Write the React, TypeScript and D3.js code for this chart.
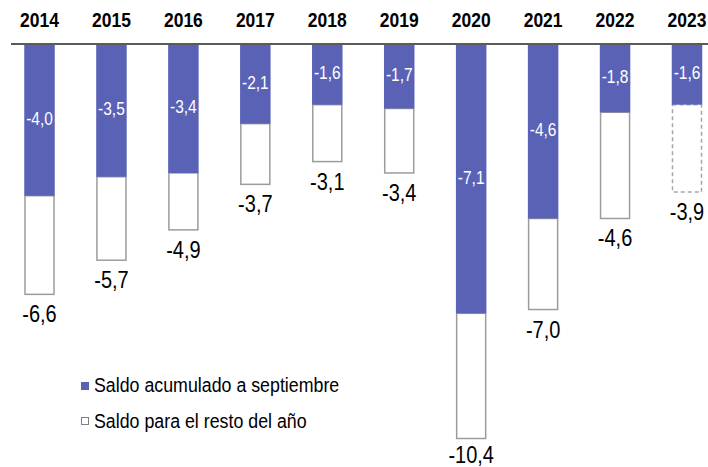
import React from "react";
import * as d3 from "d3";

const years = ["2014", "2015", "2016", "2017", "2018", "2019", "2020", "2021", "2022", "2023"];
const septValues = [-4.0, -3.5, -3.4, -2.1, -1.6, -1.7, -7.1, -4.6, -1.8, -1.6];
const totalValues = [-6.6, -5.7, -4.9, -3.7, -3.1, -3.4, -10.4, -7.0, -4.6, -3.9];
const legendLabels = ["Saldo acumulado a septiembre", "Saldo para el resto del año"];

const W = 708;
const H = 467;
const BLUE = "#5A62B6";
const FONT = "'Liberation Sans', Arial, sans-serif";
const SY = 1.18;

const fmt = (v: number) => v.toFixed(1).replace(".", ",");

export default function App() {
  const x = d3.scalePoint<string>().domain(years).range([39.5, 687]);
  const y = d3.scaleLinear().domain([0, -10.4]).range([44, 438.5]);
  const bw = 29;

  const T = (props: { x: number; y: number; size: number; fill?: string; weight?: string; anchor?: string; children: React.ReactNode }) => (
    <text
      transform={`translate(${props.x},${props.y}) scale(1,${SY})`}
      fontSize={props.size}
      fontFamily={FONT}
      fill={props.fill || "#000"}
      fontWeight={props.weight || "normal"}
      textAnchor={props.anchor || "middle"}
    >
      {props.children}
    </text>
  );

  return (
    <svg width={W} height={H} style={{ position: "absolute", left: 0, top: 0 }}>
      <rect width={W} height={H} fill="#fff" />
      {years.map((yr, i) => {
        const cx = x(yr)!;
        const s = septValues[i];
        const t = totalValues[i];
        const last = i === years.length - 1;
        return (
          <g key={yr}>
            <rect
              x={cx - bw / 2}
              y={y(s)}
              width={bw}
              height={y(t) - y(s)}
              fill="#fff"
              stroke={last ? "#a6a6a6" : "#9c9c9c"}
              strokeWidth={1.5}
              strokeDasharray={last ? "4,3" : undefined}
            />
            <rect x={cx - bw / 2 - 0.75} y={y(0)} width={bw + 1.5} height={y(s) - y(0)} fill={BLUE} />
            <T x={cx} y={(y(0) + y(s)) / 2 + 5} size={15.5} fill="#fff">{fmt(s)}</T>
            <T x={cx} y={Math.min(y(t) + 28, 463)} size={20}>{fmt(t)}</T>
            <T x={cx} y={27} size={17.5} weight="bold">{yr}</T>
          </g>
        );
      })}
      <line x1={11} x2={W} y1={y(0)} y2={y(0)} stroke="#5a5a5a" strokeWidth={2} />
      <g>
        <rect x={81} y={382} width={8} height={8} fill={BLUE} />
        <T x={94} y={392} size={17.8} anchor="start">{legendLabels[0]}</T>
        <rect x={81.5} y={417.5} width={7} height={7} fill="#fff" stroke="#7f7f7f" strokeWidth={1} />
        <T x={94} y={428} size={17.8} anchor="start">{legendLabels[1]}</T>
      </g>
    </svg>
  );
}
